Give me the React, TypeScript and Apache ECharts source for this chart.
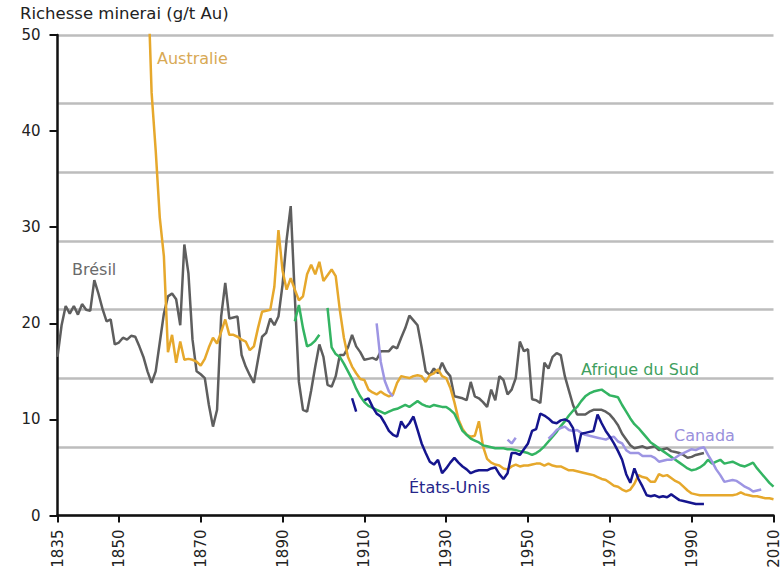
import React, { useEffect, useRef } from "react";
import * as echarts from "echarts";

type Pt = [number, number | null];

const xTickYears = [1835, 1850, 1870, 1890, 1910, 1930, 1950, 1970, 1990, 2010];
const yTicks = [0, 10, 20, 30, 40, 50];

const bresil: Pt[] = [
  [1835, 16.5], [1836, 19.8], [1837, 21.8], [1838, 21], [1839, 21.8], [1840, 20.9], [1841, 22], [1842, 21.4],
  [1843, 21.3], [1844, 24.5], [1845, 23.1], [1846, 21.5], [1847, 20.2], [1848, 20.4], [1849, 17.8], [1850, 18],
  [1851, 18.5], [1852, 18.3], [1853, 18.7], [1854, 18.6], [1855, 17.6], [1856, 16.5], [1857, 15], [1858, 13.8],
  [1859, 15], [1860, 18], [1861, 21], [1862, 22.8], [1863, 23.1], [1864, 22.5], [1865, 19.8], [1866, 28.2],
  [1867, 25.2], [1868, 18.3], [1869, 15], [1870, 14.7], [1871, 14.3], [1872, 11.5], [1873, 9.25], [1874, 11],
  [1875, 20.7], [1876, 24.2], [1877, 20.5], [1878, 20.6], [1879, 20.7], [1880, 16.7], [1881, 15.5], [1882, 14.6],
  [1883, 13.8], [1884, 16.2], [1885, 18.6], [1886, 19], [1887, 20.5], [1888, 19.8], [1889, 20.7], [1890, 24],
  [1891, 28.7], [1892, 32.2], [1893, 22.8], [1894, 13.9], [1895, 11], [1896, 10.8], [1897, 13], [1898, 15.5],
  [1899, 17.8], [1900, 16.5], [1901, 13.6], [1902, 13.4], [1903, 14.5], [1904, 16.7], [1905, 16.7], [1906, 17.5],
  [1907, 18.8], [1908, 17.6], [1909, 17], [1910, 16.2], [1911, 16.3], [1912, 16.4], [1913, 16.2], [1914, 17.1],
  [1915, 17.1], [1916, 17.1], [1917, 17.6], [1918, 17.4], [1919, 18.5], [1920, 19.5], [1921, 20.8], [1922, 20.3],
  [1923, 19.8], [1924, 17.5], [1925, 15], [1926, 14.6], [1927, 15.3], [1928, 14.8], [1929, 15.9], [1930, 15],
  [1931, 14.5], [1932, 12.4], [1933, 12.3], [1934, 12.2], [1935, 12], [1936, 13.9], [1937, 12.4], [1938, 12.2],
  [1939, 11.8], [1940, 11.3], [1941, 13.1], [1942, 12], [1943, 14.5], [1944, 14.1], [1945, 12.6], [1946, 13.1],
  [1947, 14.3], [1948, 18.1], [1949, 17.1], [1950, 17.3], [1951, 12.1], [1952, 12], [1953, 11.7], [1954, 15.9],
  [1955, 15.3], [1956, 16.5], [1957, 16.9], [1958, 16.7], [1959, 14.5], [1960, 13], [1961, 11.5], [1962, 10.5],
  [1963, 10.5], [1964, 10.5], [1965, 10.8], [1966, 11], [1967, 11], [1968, 11], [1969, 10.8], [1970, 10.5],
  [1971, 10], [1972, 9.4], [1973, 8.5], [1974, 7.9], [1975, 7.3], [1976, 7], [1977, 7.1], [1978, 7.2],
  [1979, 7], [1980, 7.1], [1981, 7.2], [1982, 6.8], [1983, 6.9], [1984, 7], [1985, 6.7], [1986, 6.6],
  [1987, 6.5], [1988, 6.3], [1989, 6], [1990, 6.1], [1991, 6.3], [1992, 6.4], [1993, 6.5],
];

const australie: Pt[] = [
  [1857, 57], [1858, 44], [1859, 38], [1860, 31], [1861, 27], [1862, 17], [1863, 18.8], [1864, 15.9],
  [1865, 18.1], [1866, 16.2], [1867, 16.3], [1868, 16.2], [1869, 16], [1870, 15.6], [1871, 16.3], [1872, 17.5],
  [1873, 18.5], [1874, 17.9], [1875, 19.1], [1876, 20.4], [1877, 18.8], [1878, 18.8], [1879, 18.6], [1880, 18.3],
  [1881, 18.1], [1882, 17.2], [1883, 17.6], [1884, 19.5], [1885, 21.2], [1886, 21.3], [1887, 21.4], [1888, 23.8],
  [1889, 29.7], [1890, 25.5], [1891, 23.5], [1892, 24.7], [1893, 23.5], [1894, 22.4], [1895, 22.8], [1896, 25.1],
  [1897, 26.1], [1898, 25.1], [1899, 26.4], [1900, 24.4], [1901, 25], [1902, 25.6], [1903, 24.9], [1904, 21.4],
  [1905, 18.5], [1906, 16.5], [1907, 15.5], [1908, 14.8], [1909, 14.2], [1910, 14.1], [1911, 13.1], [1912, 12.8],
  [1913, 12.6], [1914, 12.9], [1915, 12.6], [1916, 12.4], [1917, 12.6], [1918, 13.8], [1919, 14.5], [1920, 14.4],
  [1921, 14.3], [1922, 14.5], [1923, 14.6], [1924, 14.5], [1925, 13.9], [1926, 14.6], [1927, 14.8], [1928, 15.2],
  [1929, 14.5], [1930, 14.3], [1931, 13.3], [1932, 11.8], [1933, 10], [1934, 9], [1935, 8.4], [1936, 8.2],
  [1937, 8.3], [1938, 9.8], [1939, 7.2], [1940, 5.9], [1941, 5.5], [1942, 5.3], [1943, 5.2], [1944, 4.9],
  [1945, 4.8], [1946, 5.1], [1947, 5.3], [1948, 5.1], [1949, 5.2], [1950, 5.2], [1951, 5.3], [1952, 5.4],
  [1953, 5.4], [1954, 5.2], [1955, 5.4], [1956, 5.2], [1957, 5.1], [1958, 5.1], [1959, 4.9], [1960, 4.7],
  [1961, 4.7], [1962, 4.6], [1963, 4.5], [1964, 4.4], [1965, 4.3], [1966, 4.2], [1967, 4], [1968, 3.8],
  [1969, 3.7], [1970, 3.4], [1971, 3.1], [1972, 3], [1973, 2.7], [1974, 2.5], [1975, 2.7], [1976, 3.3],
  [1977, 4.2], [1978, 4], [1979, 3.9], [1980, 3.5], [1981, 3.5], [1982, 4.3], [1983, 4.1], [1984, 4.2],
  [1985, 3.9], [1986, 3.6], [1987, 3.4], [1988, 3], [1989, 2.6], [1990, 2.3], [1991, 2.2], [1992, 2.1],
  [1993, 2.1], [1994, 2.1], [1995, 2.1], [1996, 2.1], [1997, 2.1], [1998, 2.1], [1999, 2.1], [2000, 2.1],
  [2001, 2.2], [2002, 2.4], [2003, 2.2], [2004, 2.1], [2005, 2], [2006, 2], [2007, 1.9], [2008, 1.8],
  [2009, 1.8], [2010, 1.7],
];

const afriqueDuSud: Pt[] = [
  [1893, 20.2], [1894, 21.9], [1895, 19.5], [1896, 17.6], [1897, 17.8], [1898, 18.2], [1899, 18.8], [1900, null],
  [1901, 21.6], [1902, 17.5], [1903, 16.8], [1904, 16.5], [1905, 15.8], [1906, 15], [1907, 14.2], [1908, 13.2],
  [1909, 12.4], [1910, 11.8], [1911, 11.4], [1912, 11.2], [1913, 11], [1914, 10.8], [1915, 10.6], [1916, 10.8],
  [1917, 11], [1918, 11.1], [1919, 11.3], [1920, 11.5], [1921, 11.3], [1922, 11.6], [1923, 11.9], [1924, 11.6],
  [1925, 11.4], [1926, 11.3], [1927, 11.5], [1928, 11.4], [1929, 11.3], [1930, 11.3], [1931, 11], [1932, 10.6],
  [1933, 9.7], [1934, 8.8], [1935, 8.4], [1936, 8], [1937, 7.8], [1938, 7.6], [1939, 7.3], [1940, 7.2],
  [1941, 7.1], [1942, 7], [1943, 7], [1944, 7], [1945, 6.9], [1946, 6.9], [1947, 6.8], [1948, 6.7],
  [1949, 6.6], [1950, 6.5], [1951, 6.3], [1952, 6.5], [1953, 6.8], [1954, 7.2], [1955, 7.7], [1956, 8.2],
  [1957, 8.7], [1958, 9.3], [1959, 9.8], [1960, 10.4], [1961, 10.9], [1962, 11.3], [1963, 11.9], [1964, 12.4],
  [1965, 12.7], [1966, 12.9], [1967, 13], [1968, 13.1], [1969, 12.8], [1970, 12.5], [1971, 12.4], [1972, 12.3],
  [1973, 11.5], [1974, 10.8], [1975, 10.1], [1976, 9.5], [1977, 9.1], [1978, 8.6], [1979, 8.1], [1980, 7.6],
  [1981, 7.3], [1982, 7], [1983, 6.7], [1984, 6.4], [1985, 6.1], [1986, 5.8], [1987, 5.5], [1988, 5.2],
  [1989, 4.9], [1990, 4.7], [1991, 4.8], [1992, 5], [1993, 5.3], [1994, 5.8], [1995, 5.4], [1996, 5.6],
  [1997, 5.8], [1998, 5.4], [1999, 5.5], [2000, 5.6], [2001, 5.4], [2002, 5.2], [2003, 5.1], [2004, 5.3],
  [2005, 5.5], [2006, 4.9], [2007, 4.4], [2008, 3.9], [2009, 3.4], [2010, 3],
];

const etatsUnis: Pt[] = [
  [1907, 12.2], [1908, 10.8], [1909, null],
  [1910, 12], [1911, 12.2], [1912, 11.3], [1913, 10.6], [1914, 10.3], [1915, 9.6], [1916, 8.8], [1917, 8.4],
  [1918, 8.2], [1919, 9.8], [1920, 9.1], [1921, 9.6], [1922, 10.3], [1923, 8.9], [1924, 7.5], [1925, 6.5],
  [1926, 5.6], [1927, 5.3], [1928, 5.8], [1929, 4.4], [1930, 4.9], [1931, 5.5], [1932, 6], [1933, 5.5],
  [1934, 5.1], [1935, 4.8], [1936, 4.4], [1937, 4.6], [1938, 4.7], [1939, 4.7], [1940, 4.7], [1941, 4.9],
  [1942, 5], [1943, 4.3], [1944, 3.8], [1945, 4.4], [1946, 6.5], [1947, 6.5], [1948, 6.3], [1949, 6.9],
  [1950, 7.5], [1951, 8.8], [1952, 9], [1953, 10.6], [1954, 10.4], [1955, 10.1], [1956, 9.7], [1957, 9.6],
  [1958, 9.9], [1959, 10], [1960, 9.8], [1961, 9.1], [1962, 6.6], [1963, 8.5], [1964, 8.6], [1965, 8.7],
  [1966, 8.8], [1967, 10.5], [1968, 9.6], [1969, 8.8], [1970, 8.2], [1971, 7.5], [1972, 6.7], [1973, 5.8],
  [1974, 4.3], [1975, 3.4], [1976, 4.9], [1977, 3.8], [1978, 3], [1979, 2.1], [1980, 2], [1981, 2.1],
  [1982, 1.9], [1983, 2], [1984, 1.9], [1985, 2.2], [1986, 1.9], [1987, 1.6], [1988, 1.5], [1989, 1.4],
  [1990, 1.3], [1991, 1.2], [1992, 1.2], [1993, 1.2],
];

const canada: Pt[] = [
  [1913, 20], [1914, 16], [1915, 14], [1916, 12.9], [1917, 12.4], [1918, null],
  [1945, 7.9], [1946, 7.5], [1947, 8.1], [1948, null],
  [1955, 8], [1956, 8.4], [1957, 8.9], [1958, 9.1], [1959, 9.25], [1960, 8.9], [1961, 8.8], [1962, 8.9],
  [1963, 8.6], [1964, 8.4], [1965, 8.3], [1966, 8.2], [1967, 8.1], [1968, 8], [1969, 7.9], [1970, 8.1],
  [1971, 8.2], [1972, 7.7], [1973, 7.5], [1974, 6.8], [1975, 6.5], [1976, 6.5], [1977, 6.5], [1978, 6.2],
  [1979, 6.2], [1980, 6.2], [1981, 6], [1982, 5.6], [1983, 5.7], [1984, 5.8], [1985, 5.8], [1986, 6],
  [1987, 6.3], [1988, 6.5], [1989, 6.7], [1990, 6.9], [1991, 6.8], [1992, 7], [1993, 7.1], [1994, 6.3],
  [1995, 5.6], [1996, 4.8], [1997, 4.2], [1998, 3.5], [1999, 3.6], [2000, 3.7], [2001, 3.6], [2002, 3.3],
  [2003, 3], [2004, 2.8], [2005, 2.5], [2006, 2.6], [2007, 2.7],
];

const FONT = "'DejaVu Sans', Verdana, sans-serif";

const seriesDefs = [
  { name: "Brésil", data: bresil, color: "#5e5e5e", label: "#6a6a6a", lx: 72, ly: 269 },
  { name: "Australie", data: australie, color: "#e6a82c", label: "#d8a954", lx: 157, ly: 58 },
  { name: "Afrique du Sud", data: afriqueDuSud, color: "#33b462", label: "#3f9f60", lx: 581, ly: 369 },
  { name: "Canada", data: canada, color: "#9d95e3", label: "#9a90dc", lx: 674, ly: 435 },
  { name: "États-Unis", data: etatsUnis, color: "#15158e", label: "#25258a", lx: 409, ly: 487 },
];

export default function App() {
  const ref = useRef<HTMLDivElement>(null);
  useEffect(() => {
    if (!ref.current) return;
    const chart = echarts.init(ref.current, undefined, { renderer: "svg" });
    const order = ["Brésil", "Australie", "Afrique du Sud", "Canada", "États-Unis"];
    chart.setOption({
      animation: false,
      backgroundColor: "#ffffff",
      grid: { left: 57.5, right: 3.3, top: 35, bottom: 57.5, containLabel: false },
      xAxis: {
        type: "value",
        min: 1835,
        max: 2010,
        splitLine: { show: false },
        axisLine: { show: true, onZero: false, lineStyle: { color: "#111", width: 2.5 } },
        axisTick: { show: true, length: 7, customValues: xTickYears, lineStyle: { color: "#111", width: 2 } },
        axisLabel: {
          customValues: xTickYears,
          formatter: (v: number) => String(Math.round(v)),
          rotate: 90,
          margin: 14,
          fontSize: 15,
          fontFamily: FONT,
          color: "#222",
        },
      },
      yAxis: [
        {
          type: "value",
          min: 0,
          max: 50,
          interval: 10,
          splitLine: { show: false },
          axisLine: { show: true, lineStyle: { color: "#111", width: 2.5 } },
          axisTick: { show: true, length: 8, lineStyle: { color: "#111", width: 2 } },
          axisLabel: {
            margin: 17,
            fontSize: 15,
            fontFamily: FONT,
            color: "#222",
            formatter: (v: number) => (yTicks.includes(v) ? String(v) : ""),
          },
        },
        {
          type: "value",
          min: 0,
          max: 50,
          interval: 50 / 7,
          position: "left",
          axisLine: { show: false },
          axisTick: { show: false },
          axisLabel: { show: false },
          splitLine: { show: true, lineStyle: { color: "#bdbdbd", width: 2.5 } },
        },
      ],
      series: order.map((n) => {
        const d = seriesDefs.find((s) => s.name === n)!;
        return {
          name: d.name,
          type: "line",
          yAxisIndex: 0,
          data: d.data.map(([x, y]) => [x, y === null ? "-" : y]),
          showSymbol: false,
          symbol: "none",
          connectNulls: false,
          clip: true,
          lineStyle: { color: d.color, width: 2.5 },
          z: 3,
        };
      }),
      graphic: [
        {
          type: "text",
          left: 20,
          top: 5,
          style: { text: "Richesse minerai (g/t Au)", fontSize: 16.5, fontFamily: FONT, fill: "#222" },
        },
        ...seriesDefs.map((d) => ({
          type: "text",
          x: d.lx,
          y: d.ly,
          style: {
            text: d.name,
            fontSize: 16,
            fontFamily: FONT,
            fill: d.label,
            textVerticalAlign: "middle",
            verticalAlign: "middle",
          },
          z: 10,
        })),
      ],
    });
    return () => chart.dispose();
  }, []);
  return (
    <div
      ref={ref}
      style={{ position: "fixed", left: 0, top: 0, width: 781, height: 573, background: "#fff" }}
    />
  );
}
